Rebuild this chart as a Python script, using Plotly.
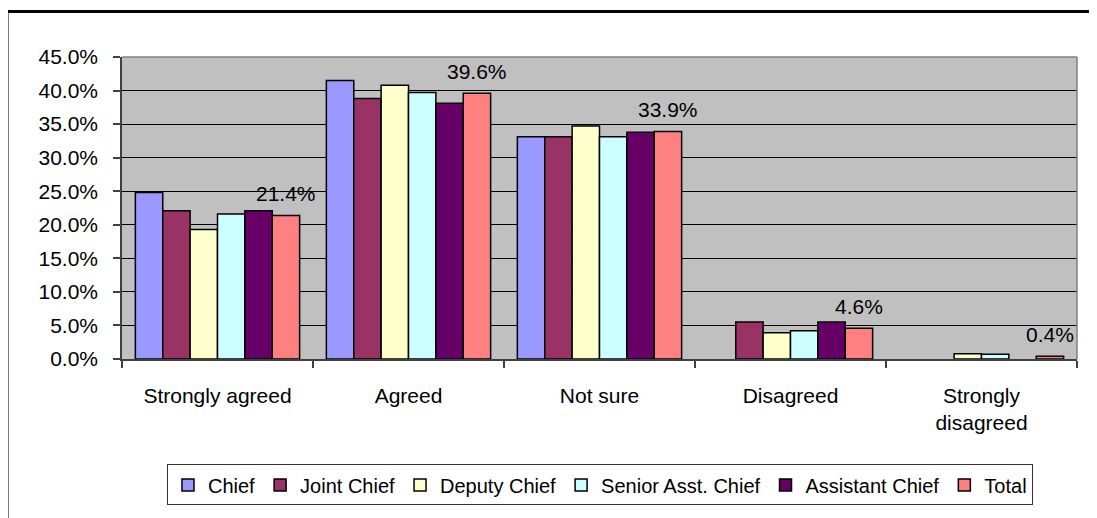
import plotly.graph_objects as go

categories = ["Strongly agreed", "Agreed", "Not sure", "Disagreed", "Strongly<br>disagreed"]
series_names = ["Chief", "Joint Chief", "Deputy Chief", "Senior Asst. Chief", "Assistant Chief", "Total"]
chief = [24.8, 41.5, 33.1, 0.0, 0.0]
joint_chief = [22.1, 38.8, 33.1, 5.5, 0.0]
deputy_chief = [19.3, 40.8, 34.7, 3.9, 0.8]
senior_asst_chief = [21.6, 39.7, 33.1, 4.2, 0.7]
assistant_chief = [22.1, 38.1, 33.8, 5.5, 0.0]
total = [21.4, 39.6, 33.9, 4.6, 0.4]
colors = ["#9999FF", "#993366", "#FFFFCC", "#CCFFFF", "#660066", "#FF8080"]
y_ticks = [0, 5, 10, 15, 20, 25, 30, 35, 40, 45]

all_values = [chief, joint_chief, deputy_chief, senior_asst_chief, assistant_chief, total]

FONT = "Liberation Sans, Arial, sans-serif"

PLOT_W = 1089 - 114 - 20
BARGAP = 0.14

fig = go.Figure()
for name, vals, col in zip(series_names, all_values, colors):
    fig.add_trace(go.Bar(
        name=name,
        x=categories,
        y=vals,
        marker=dict(color=col, line=dict(color="black", width=[1.5 if v > 0 else 0 for v in vals])),
        cliponaxis=False,
    ))

# data labels for the Total series, placed over the Total bar slot of each group
n_series = len(series_names)
group_px = PLOT_W / len(categories)
bar_px = group_px * (1 - BARGAP) / n_series
total_idx = series_names.index("Total")
slot_shift = (total_idx - (n_series - 1) / 2) * bar_px
for cat, v in zip(categories, total):
    fig.add_annotation(
        x=cat, y=v, xref="x", yref="y",
        text=f"{v:.1f}%", showarrow=False,
        xanchor="center", yanchor="bottom",
        xshift=slot_shift, yshift=8,
        font=dict(size=21, color="black", family=FONT),
    )

fig.update_layout(
    width=1089, height=510,
    margin=dict(l=114, r=20, t=49, b=157),
    paper_bgcolor="white",
    plot_bgcolor="#C0C0C0",
    barmode="group",
    bargap=BARGAP,
    bargroupgap=0,
    font=dict(family=FONT, size=21, color="black"),
    showlegend=True,
    legend=dict(
        orientation="h",
        x=0.5005, xanchor="center",
        y=-0.349, yanchor="top",
        bgcolor="white",
        bordercolor="#333333",
        borderwidth=1,
        font=dict(size=20, family=FONT, color="black"),
        itemwidth=30,
        tracegroupgap=0,
    ),
)

fig.update_xaxes(
    type="category",
    showline=True, linecolor="#404040", linewidth=1.5,
    ticks="outside", tickson="boundaries", ticklen=7, tickcolor="#404040", tickwidth=1.5,
    showgrid=False,
    ticklabelstandoff=17,
    tickfont=dict(size=21, family=FONT, color="black"),
)
fig.update_yaxes(
    range=[0, 45],
    tickvals=y_ticks,
    ticktext=[f"{v:.1f}%" for v in y_ticks],
    showline=True, linecolor="#404040", linewidth=1.5,
    ticks="outside", ticklen=7, tickcolor="#404040", tickwidth=1.5,
    showgrid=True, gridcolor="black", gridwidth=1,
    zeroline=False,
    ticklabelstandoff=11,
    tickfont=dict(size=21, family=FONT, color="black"),
)

# plot area gray border (top and right)
fig.add_shape(type="line", xref="paper", yref="paper", x0=0, x1=1, y0=1, y1=1,
              line=dict(color="#808080", width=1.5))
fig.add_shape(type="line", xref="paper", yref="paper", x0=1, x1=1, y0=0, y1=1,
              line=dict(color="#808080", width=1.5))
# outer chart border (left and top, extending beyond the page)
fig.add_shape(type="line", xref="paper", yref="paper", x0=-0.1204, x1=1.2, y0=1.151, y1=1.151,
              line=dict(color="black", width=3))
fig.add_shape(type="line", xref="paper", yref="paper", x0=-0.1204, x1=-0.1204, y0=-0.7, y1=1.151,
              line=dict(color="black", width=3))

fig.write_html("out.html")
